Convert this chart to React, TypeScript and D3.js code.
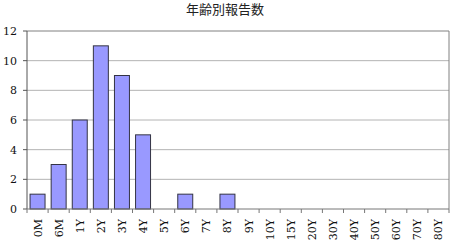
import React from "react";
import * as d3 from "d3";

const categories = ["0M","6M","1Y","2Y","3Y","4Y","5Y","6Y","7Y","8Y","9Y","10Y","15Y","20Y","30Y","40Y","50Y","60Y","70Y","80Y"];
const counts = [1,3,6,11,9,5,0,1,0,1,0,0,0,0,0,0,0,0,0,0];
const yTicks = [0,2,4,6,8,10,12];
const title = "年齢別報告数";

export default function App() {
  const W = 452, H = 249;
  const left = 27, right = 449, top = 31, bottom = 209;
  const x = d3.scaleBand<string>().domain(categories).range([left, right]).paddingInner(0.29).paddingOuter(0.145);
  const xb = d3.scaleBand<string>().domain(categories).range([left, right]);
  const y = d3.scaleLinear().domain([0, 12]).range([bottom, top]);
  const serif = "'DejaVu Serif', 'Liberation Serif', 'Times New Roman', serif";
  return (
    <svg width={W} height={H} style={{ position: "absolute", left: 0, top: 0 }}>
      <rect x={0} y={0} width={W} height={H} fill="#fff" />
      <text x={225} y={14} textAnchor="middle" fontSize={13} fontFamily="'Noto Sans CJK JP', sans-serif" fill="#222">{title}</text>
      {yTicks.filter(t => t > 0 && t < 12).map(t => (
        <line key={t} x1={left} x2={right} y1={y(t)} y2={y(t)} stroke="#b4b4b4" strokeWidth={1} />
      ))}
      <line x1={left} x2={right} y1={y(12)} y2={y(12)} stroke="#808080" />
      <line x1={right} x2={right} y1={top} y2={bottom} stroke="#808080" />
      {counts.map((v, i) => v > 0 ? (
        <rect key={i} x={x(categories[i])!} y={y(v)} width={x.bandwidth()} height={bottom - y(v)}
          fill="#9999ff" stroke="#333344" strokeWidth={1} />
      ) : null)}
      <line x1={left} x2={left} y1={top} y2={bottom} stroke="#555" />
      <line x1={left} x2={right} y1={bottom} y2={bottom} stroke="#777" />
      {yTicks.map(t => (
        <g key={t}>
          <line x1={left - 4} x2={left} y1={y(t)} y2={y(t)} stroke="#555" />
          <text x={17} y={y(t)} dy="0.35em" textAnchor="end" fontSize={11} style={{ fontFamily: serif }} fill="#111">{t}</text>
        </g>
      ))}
      {categories.map((c, i) => (
        <line key={"t" + i} x1={xb(c)!} x2={xb(c)!} y1={bottom} y2={bottom + 4} stroke="#777" />
      ))}
      <line x1={right} x2={right} y1={bottom} y2={bottom + 4} stroke="#777" />
      {categories.map(c => {
        const cx = xb(c)! + xb.bandwidth() / 2;
        return (
          <text key={c} transform={`translate(${cx + 4},${219}) rotate(-90)`} textAnchor="end" fontSize={11} style={{ fontFamily: serif }} fill="#111">{c}</text>
        );
      })}
    </svg>
  );
}
